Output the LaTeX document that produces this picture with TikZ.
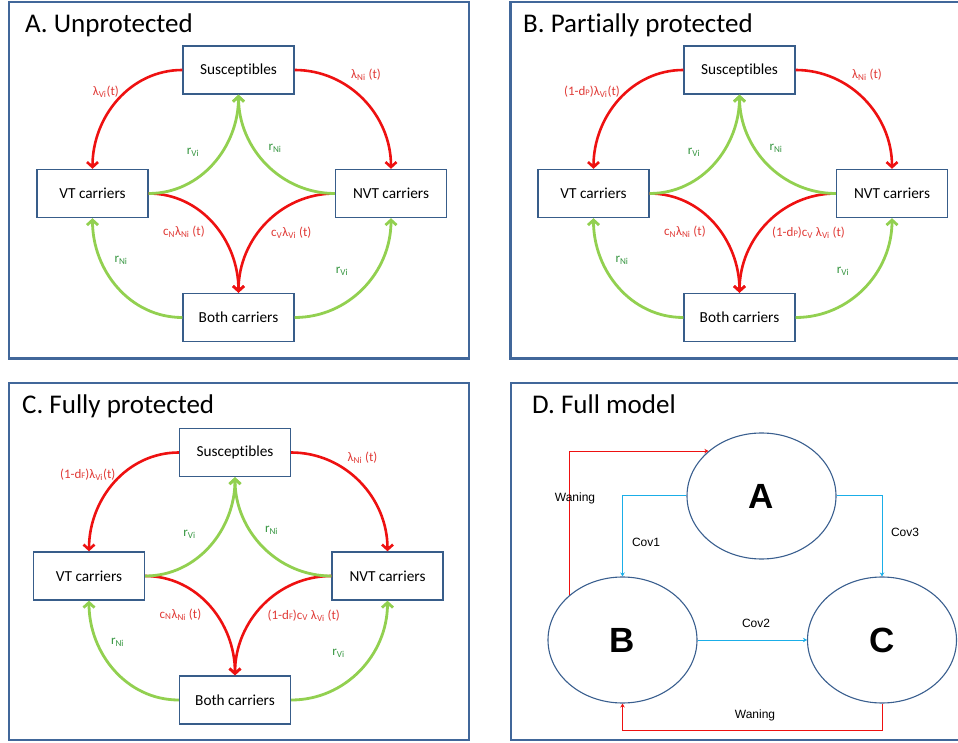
\documentclass[tikz,border=0pt]{standalone}
\usepackage{fontspec}
\setmainfont{Carlito}[Ligatures=NoCommon]
\newfontfamily\arialfont{Liberation Sans}
\usepackage{tikz}
\usetikzlibrary{arrows.meta, shapes.geometric}
\definecolor{clrFrame}{HTML}{41679A}
\definecolor{clrBox}{HTML}{385D8A}
\definecolor{clrRed}{HTML}{EE1111}
\definecolor{clrRedText}{HTML}{E03A36}
\definecolor{clrGreen}{HTML}{92D050}
\definecolor{clrGreenText}{HTML}{35953F}
\definecolor{clrCyan}{HTML}{1AAEE8}
\definecolor{clrEll}{HTML}{3A5F8F}
\tikzset{
  panel frame/.style={draw=clrFrame, line width=2.6pt},
  panel title/.style={anchor=base west, inner sep=0pt, font=\fontsize{27}{30}\selectfont},
  pop box/.style={rectangle, draw=clrBox, line width=1.4pt, fill=white, minimum width=111pt, minimum height=48pt, font=\fontsize{15.3}{17}\selectfont},
  inf arr/.style={-{Straight Barb[length=5pt,width=11pt]}, line width=2.6pt, draw=clrRed},
  rec arr/.style={-{Straight Barb[length=5pt,width=11pt]}, line width=2.8pt, draw=clrGreen},
  inf lbl/.style={text=clrRedText, inner sep=0pt, font=\fontsize{13}{15}\selectfont},
  rec lbl/.style={text=clrGreenText, inner sep=0pt, font=\fontsize{13}{15}\selectfont},
  state ell/.style={ellipse, draw=clrEll, line width=1.1pt, minimum width=149pt, minimum height=126pt, inner sep=0pt, font=\arialfont\bfseries\fontsize{35}{40}\selectfont},
  cov arr/.style={-{Stealth[length=4pt,width=4.5pt]}, line width=1pt, draw=clrCyan},
  wane arr/.style={-{Stealth[length=4pt,width=4.5pt]}, line width=1pt, draw=clrRed},
  d lbl/.style={inner sep=0pt, font=\arialfont\fontsize{12}{14}\selectfont},
}
\newcommand{\smallcap}[1]{{\fontsize{8.5}{9}\selectfont #1}}
% one carrier panel: #1 name suffix, #2 shift, #3 S -> VT rate, #4 NVT -> Both rate
\newcommand{\carrierpanel}[4]{%
  \begin{scope}[shift={#2}]
    \node[pop box] (sus#1) at (238.5,672) {Susceptibles};
    \node[pop box] (vt#1) at (92.5,548.5) {VT carriers};
    \node[pop box] (nvt#1) at (391,548.5) {NVT carriers};
    \node[pop box] (both#1) at (238.5,424.5) {Both carriers};
    % acquisition
    \draw[inf arr] (sus#1.west) to[out=180, in=90] (vt#1.north);
    \draw[inf arr] (sus#1.east) to[out=0, in=90] (nvt#1.north);
    \draw[inf arr] (vt#1.east) to[out=0, in=90] (both#1.north);
    \draw[inf arr] (nvt#1.west) to[out=180, in=90] (both#1.north);
    % clearance
    \draw[rec arr] (vt#1.east) to[out=0, in=-90] (sus#1.south);
    \draw[rec arr] (nvt#1.west) to[out=180, in=-90] (sus#1.south);
    \draw[rec arr] (both#1.west) to[out=180, in=-90] (vt#1.south);
    \draw[rec arr] (both#1.east) to[out=0, in=-90] (nvt#1.south);
    % rates
    \node[inf lbl, anchor=east] (lamV#1) at (119,650) {#3};
    \node[inf lbl, anchor=west] (lamN#1) at (351,667) {λ\textsubscript{Ni} (t)};
    \node[inf lbl, anchor=west] (coN#1) at (163,510) {c\textsubscript{N}λ\textsubscript{Ni} (t)};
    \node[inf lbl, anchor=west] (coV#1) at (271,509) {#4};
    \node[rec lbl] (rVup#1) at (193,590) {r\textsubscript{Vi}};
    \node[rec lbl] (rNup#1) at (275,594) {r\textsubscript{Ni}};
    \node[rec lbl] (rNlo#1) at (121,482) {r\textsubscript{Ni}};
    \node[rec lbl] (rVlo#1) at (342,471) {r\textsubscript{Vi}};
  \end{scope}}

\begin{document}
\begin{tikzpicture}[x=1pt, y=1pt]
  \useasboundingbox (0,0) rectangle (958,742);
  \clip (0,0) rectangle (958,742);

  % Panel frames
  \draw[panel frame] (9,740) rectangle (469,383.5);
  \draw[panel frame] (510.5,740) rectangle (971,383.5);
  \draw[panel frame] (9,359) rectangle (469,2);
  \draw[panel frame] (511,359) rectangle (972,2);

  % Titles
  \node[panel title] (titleA) at (25,709) {A. Unprotected};
  \node[panel title] (titleB) at (523,709) {B. Partially protected};
  \node[panel title] (titleC) at (22,328) {C. Fully protected};
  \node[panel title] (titleD) at (532,328) {D. Full model};

  % Panels A--C
  \carrierpanel{A}{(0,0)}{λ\textsubscript{Vi}(t)}{c\textsubscript{V}λ\textsubscript{Vi} (t)}
  \carrierpanel{B}{(501,0)}{(1-d\smallcap{P})λ\textsubscript{Vi}(t)}{(1-d\smallcap{P})c\textsubscript{V} λ\textsubscript{Vi} (t)}
  \carrierpanel{C}{(-3.5,-382.5)}{(1-d\smallcap{F})λ\textsubscript{Vi}(t)}{(1-d\smallcap{F})c\textsubscript{V} λ\textsubscript{Vi} (t)}

  % Panel D
  \node[state ell] (stA) at (761.5,246) {A};
  \node[state ell] (stB) at (622.5,102) {B};
  \node[state ell] (stC) at (882,102) {C};

  \draw[cov arr] (stA.west) -| (stB.north);
  \draw[cov arr] (stA.east) -| (stC.north);
  \draw[cov arr] (stB.east) -- (stC.west);
  \draw[wane arr] (stB.north west) |- (stA.north west);
  \draw[wane arr] (stC.south) -- ++(0,-27) -| (stB.south);

  \node[d lbl] (cov1) at (646,200) {Cov1};
  \node[d lbl] (cov2) at (756,119) {Cov2};
  \node[d lbl] (cov3) at (905,210) {Cov3};
  \node[d lbl] (waneTop) at (575,244) {Waning};
  \node[d lbl] (waneBot) at (755,27) {Waning};
\end{tikzpicture}
\end{document}
